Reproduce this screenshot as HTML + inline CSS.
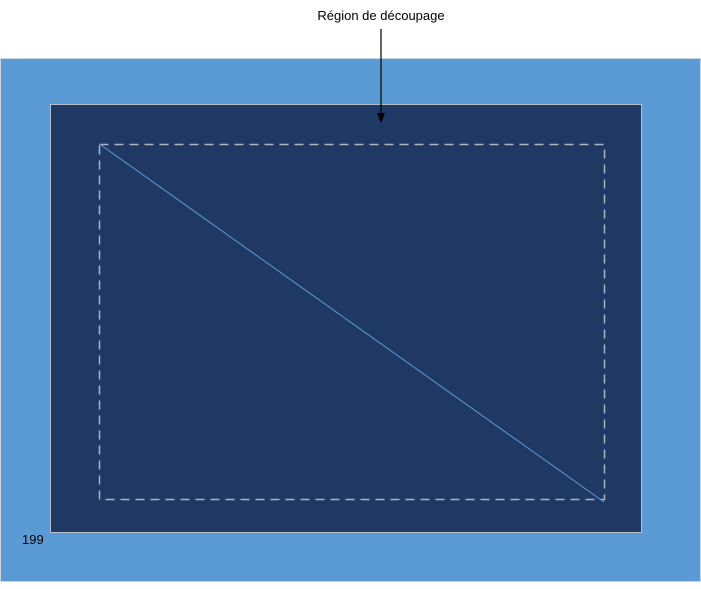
<!DOCTYPE html>
<html><head><style>
body{margin:0;width:701px;height:584px;background:#fff;overflow:hidden}
</style></head><body>
<svg width="701" height="584" xmlns="http://www.w3.org/2000/svg">
<rect x="0.5" y="58.5" width="700" height="523" fill="#5b9bd5" stroke="#c9d6e3" stroke-width="1"/>
<rect x="50.5" y="104.5" width="591" height="428" fill="#203864" stroke="#b4bfcc" stroke-width="1"/>
<path d="M99.5 144.5 H604.5 V499.5 H99.5 Z" fill="none" stroke="#aab4c4" stroke-width="1.5" stroke-dasharray="9,6"/>
<line x1="99.5" y1="144" x2="604" y2="502" stroke="#5b9bd5" stroke-width="1"/>
<line x1="381" y1="29" x2="381" y2="114" stroke="#000" stroke-width="1.2"/>
<polygon points="377,113 385,113 381,123" fill="#000"/>
<text x="381" y="20" font-family="Liberation Sans, sans-serif" font-size="13" text-anchor="middle" fill="#000">Région de découpage</text>
<text x="22" y="544" font-family="Liberation Sans, sans-serif" font-size="13" fill="#000">199</text>
</svg>
</body></html>
